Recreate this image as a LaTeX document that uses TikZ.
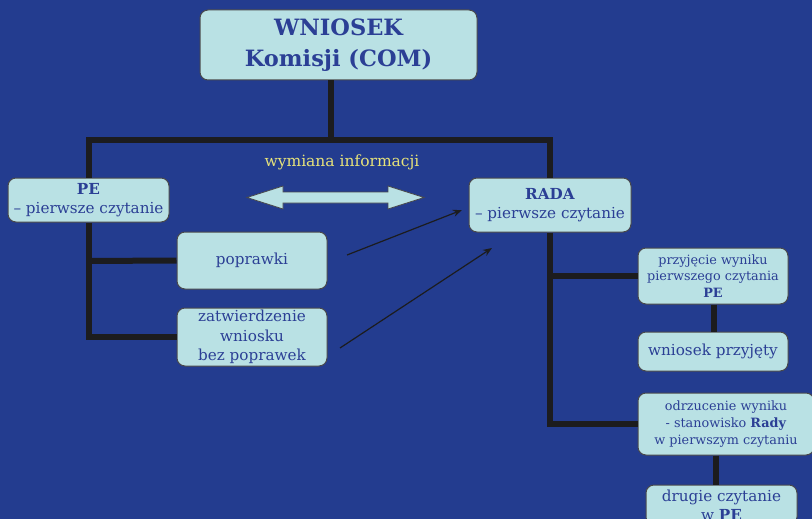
\documentclass[tikz,border=0pt]{standalone}
\usepackage{fontspec}
\setmainfont{DejaVu Serif}
\usetikzlibrary{arrows.meta}
\definecolor{bgblue}{HTML}{233C8F}
\definecolor{boxfill}{HTML}{B9E1E4}
\definecolor{txtblue}{HTML}{2B3F95}
\definecolor{linec}{HTML}{1C1C1E}
\definecolor{yell}{HTML}{E6E27A}
\tikzset{
  box/.style={draw=linec!80, line width=1pt, fill=boxfill, rounded corners=8pt,
    text=txtblue, align=center, inner sep=0pt, font=\fontsize{15.2}{19.5}\selectfont},
  small/.style={font=\fontsize{12.8}{16.8}\selectfont},
  conn/.style={draw=linec, line width=6pt, line join=miter, line cap=butt},
  thinarrow/.style={draw=linec, line width=1.2pt, -{Stealth[length=9pt,width=7pt]}},
}
\begin{document}
\begin{tikzpicture}[x=1pt,y=-1pt]
\useasboundingbox (0,0) rectangle (812,519);
\fill[bgblue] (0,0) rectangle (812,519);
\clip (0,0) rectangle (812,519);

% nodes
\node[box, minimum width=277pt, minimum height=70pt, font=\fontsize{22.5}{31}\selectfont\bfseries] (wn) at (338.5,45) {WNIOSEK\\Komisji (COM)};
\node[box, minimum width=161pt, minimum height=44pt] (pe) at (88.5,200) {\textbf{PE}\\– pierwsze czytanie};
\node[box, minimum width=150pt, minimum height=57pt] (pop) at (252,260.5) {poprawki};
\node[box, minimum width=150pt, minimum height=58pt] (zat) at (252,337) {zatwierdzenie\\wniosku\\bez poprawek};
\node[box, minimum width=162pt, minimum height=54pt] (rada) at (550,205) {\textbf{RADA}\\– pierwsze czytanie};
\node[box, small, minimum width=150pt, minimum height=56pt] (prz) at (713,276) {przyjęcie wyniku\\pierwszego czytania\\\textbf{PE}};
\node[box, minimum width=150pt, minimum height=39pt] (wp) at (713,351.5) {wniosek przyjęty};
\node[box, small, minimum width=176pt, minimum height=62pt] (odr) at (726,424) {odrzucenie wyniku\\- stanowisko \textbf{Rady}\\w pierwszym czytaniu};
\node[box, minimum width=151pt, minimum height=40pt] (dru) at (721.5,505) {drugie czytanie\\w \textbf{PE}};

% junction coordinates
\coordinate (j1) at (331,140);
\coordinate (jpe) at (88.5,261);
\coordinate (jz) at (88.5,337);
\coordinate (jr) at (550,276);
\coordinate (jo) at (550,424);

% thick connectors
\draw[conn] (wn.south -| j1) -- (j1);
\draw[conn] (pe.north) -- (pe.north |- j1) -- (rada.north |- j1) -- (rada.north);
\draw[conn] (pe.south) -- (jz) -- (zat.west);
\draw[conn] (jpe) -- (pop.west);
\draw[conn] (rada.south) -- (jo) -- (odr.west);
\draw[conn] (jr) -- (prz.west);
\draw[conn] (prz.south -| 714,0) -- (wp.north -| 714,0);
\draw[conn] (odr.south -| 716,0) -- (dru.north -| 716,0);

% exchange label and double arrow
\node[text=yell, font=\fontsize{15.5}{17}\selectfont] (wym) at (342,162) {wymiana informacji};
\draw[fill=boxfill, draw=linec!80, line width=0.8pt]
  (247,197.5) -- (283,186) -- (283,192) -- (388,192) -- (388,186) -- (424,197.5)
  -- (388,209) -- (388,203) -- (283,203) -- (283,209) -- cycle;

% thin arrows
\coordinate (a1s) at (347,255);
\coordinate (a1e) at (462,210);
\coordinate (a2s) at (340,348);
\coordinate (a2e) at (492,248);
\draw[thinarrow] (a1s) -- (a1e);
\draw[thinarrow] (a2s) -- (a2e);
\end{tikzpicture}
\end{document}
